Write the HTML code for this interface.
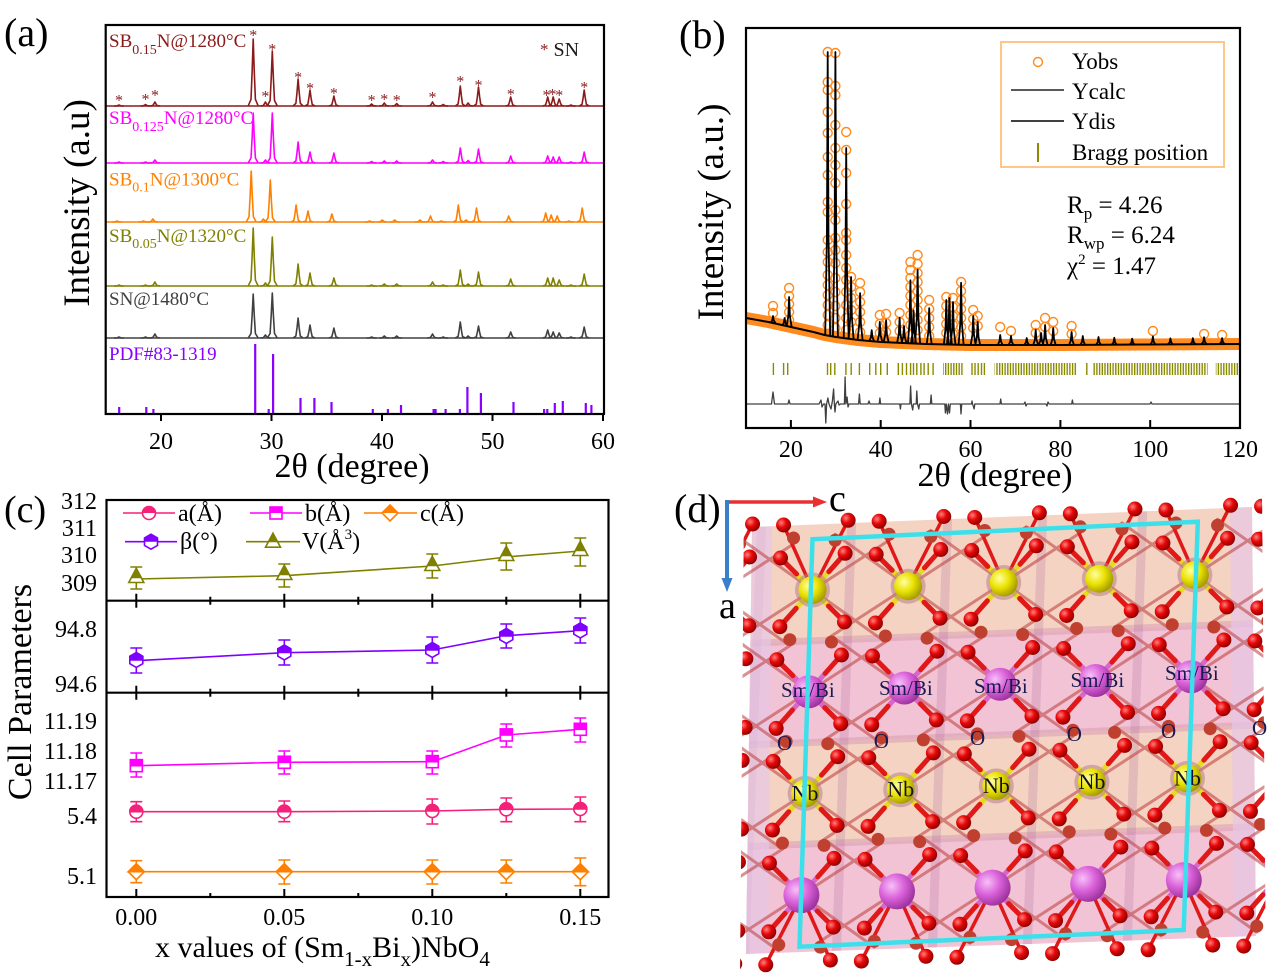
<!DOCTYPE html>
<html><head><meta charset="utf-8"><style>html,body{margin:0;padding:0;background:#fff}svg{display:block}</style></head>
<body>
<svg xmlns="http://www.w3.org/2000/svg" width="1269" height="978" viewBox="0 0 1269 978" font-family="'Liberation Serif','Times New Roman',serif">
<defs>
<path id="pk" d="M-5,0 L-2.2,-0.1 L-1.1,-0.5 L0,-1 L1.1,-0.5 L2.2,-0.1 L5,0" fill="none" vector-effect="non-scaling-stroke" stroke-linejoin="round"/>
<path id="pk2" d="M-2.5,0 L-0.8,-0.35 L0,-1 L0.8,-0.35 L2.5,0" fill="none" vector-effect="non-scaling-stroke" stroke-linejoin="round"/>
<pattern id="brg" x="0" y="363" width="2.7" height="12" patternUnits="userSpaceOnUse"><rect x="0" y="0" width="1.4" height="12" fill="#8B8B00"/></pattern>
<radialGradient id="gO" cx="0.35" cy="0.35" r="0.7"><stop offset="0" stop-color="#FF8080"/><stop offset="0.45" stop-color="#E80808"/><stop offset="1" stop-color="#8A0000"/></radialGradient>
<radialGradient id="gNb" cx="0.35" cy="0.35" r="0.7"><stop offset="0" stop-color="#FFFFA0"/><stop offset="0.5" stop-color="#EAE200"/><stop offset="1" stop-color="#A09800"/></radialGradient>
<radialGradient id="gSm" cx="0.35" cy="0.35" r="0.7"><stop offset="0" stop-color="#F8C0F8"/><stop offset="0.5" stop-color="#DA62DA"/><stop offset="1" stop-color="#9A309A"/></radialGradient>
<g id="mC"><circle r="6.5" fill="#fff" stroke="currentColor" stroke-width="1.6"/><path d="M-6.5,0 A6.5,6.5 0 0 1 6.5,0 Z" fill="currentColor"/></g>
<g id="mS"><rect x="-6" y="-6" width="12" height="12" fill="#fff" stroke="currentColor" stroke-width="1.6"/><rect x="-6" y="-6" width="12" height="6" fill="currentColor"/></g>
<g id="mD"><path d="M0,-8 L8,0 L0,8 L-8,0 Z" fill="#fff" stroke="currentColor" stroke-width="1.6"/><path d="M0,-8 L8,0 L-8,0 Z" fill="currentColor"/></g>
<g id="mH"><path d="M0,-7.5 L6.5,-3.7 L6.5,3.7 L0,7.5 L-6.5,3.7 L-6.5,-3.7 Z" fill="#fff" stroke="currentColor" stroke-width="1.6"/><path d="M-6.5,0 L-6.5,-3.7 L0,-7.5 L6.5,-3.7 L6.5,0 Z" fill="currentColor"/></g>
<g id="mT"><path d="M0,-8.5 L7.5,5.5 L-7.5,5.5 Z" fill="#fff" stroke="currentColor" stroke-width="1.6"/><path d="M0,-8.5 L4.8,0.5 L-4.8,0.5 Z" fill="currentColor"/></g>
<g id="Oset">
<circle cx="-27" cy="3" r="6.5" fill="#C04030" stroke="none"/><circle cx="27" cy="-3" r="6.5" fill="#C04030" stroke="none"/>
<circle cx="-14" cy="-17" r="7.5" fill="url(#gO)" stroke="none"/><circle cx="17" cy="-16" r="7.5" fill="url(#gO)" stroke="none"/>
<circle cx="-17" cy="16" r="7.5" fill="url(#gO)" stroke="none"/><circle cx="14" cy="17" r="7.5" fill="url(#gO)" stroke="none"/>
</g>
<g id="sqA" stroke-linecap="round" fill="none">
<path d="M-46,-49 L27,3 M-49.6,52.7 L27,3 M49.6,-52.7 L-27,-3 M46,49 L-27,-3" stroke="#C04848" stroke-width="3" opacity="0.6"/>
<path d="M-46,-49 L-30,-33 M49.6,-52.7 L33.3,-34.4" stroke="#E6DC1E" stroke-width="5"/>
<path d="M-49.6,52.7 L-33.3,34.4 M46,49 L30,33" stroke="#D868C8" stroke-width="5"/>
<path d="M-30,-33 L-14,-17 M33.3,-34.4 L17,-16 M-33.3,34.4 L-17,16 M30,33 L14,17" stroke="#E01818" stroke-width="5"/>
<use href="#Oset"/>
</g>
<g id="sqB" stroke-linecap="round" fill="none">
<path d="M-46,-49 L27,3 M-49.6,52.7 L27,3 M49.6,-52.7 L-27,-3 M46,49 L-27,-3" stroke="#C04848" stroke-width="3" opacity="0.6"/>
<path d="M-46,-49 L-30,-33 M49.6,-52.7 L33.3,-34.4" stroke="#D868C8" stroke-width="5"/>
<path d="M-49.6,52.7 L-33.3,34.4 M46,49 L30,33" stroke="#E6DC1E" stroke-width="5"/>
<path d="M-30,-33 L-14,-17 M33.3,-34.4 L17,-16 M-33.3,34.4 L-17,16 M30,33 L14,17" stroke="#E01818" stroke-width="5"/>
<use href="#Oset"/>
</g>
<!-- top edge: only bonds to bottom (Nb) corners -->
<g id="sqD" stroke-linecap="round" fill="none">
<path d="M-49.6,52.7 L27,3 M46,49 L-27,-3" stroke="#C04848" stroke-width="3" opacity="0.6"/>
<path d="M-49.6,52.7 L-14,-17 M46,49 L17,-16" stroke="#E01818" stroke-width="3.5"/>
<path d="M-49.6,52.7 L-33.3,34.4 M46,49 L30,33" stroke="#E6DC1E" stroke-width="5"/>
<path d="M-33.3,34.4 L-17,16 M30,33 L14,17" stroke="#E01818" stroke-width="5"/>
<use href="#Oset"/>
</g>
<!-- bottom edge: only bonds to top (Sm) corners -->
<g id="sqC" stroke-linecap="round" fill="none">
<path d="M-46,-49 L27,3 M49.6,-52.7 L-27,-3" stroke="#C04848" stroke-width="3" opacity="0.6"/>
<path d="M-46,-49 L-17,16 M49.6,-52.7 L14,17" stroke="#E01818" stroke-width="3.5"/>
<path d="M-46,-49 L-30,-33 M49.6,-52.7 L33.3,-34.4" stroke="#D868C8" stroke-width="5"/>
<path d="M-30,-33 L-14,-17 M33.3,-34.4 L17,-16" stroke="#E01818" stroke-width="5"/>
<use href="#Oset"/>
</g>
<clipPath id="clipD"><polygon points="744,506 1262,496 1266,975 740,978"/></clipPath>
<clipPath id="clipBg"><polygon points="752,527 1252,507 1256,936 746,954"/></clipPath>
</defs>

<!-- ===================== PANEL (a) ===================== -->
<text x="4" y="46" font-size="40">(a)</text>
<text transform="translate(89,203) rotate(-90)" text-anchor="middle" font-size="37">Intensity (a.u)</text>
<text x="352" y="477" text-anchor="middle" font-size="34">2θ (degree)</text>
<g font-size="24" text-anchor="middle">
<text x="161" y="449">20</text><text x="271.5" y="449">30</text><text x="382" y="449">40</text><text x="492.5" y="449">50</text><text x="603" y="449">60</text>
</g>

<g stroke="#8B1A1A" stroke-width="1.6" fill="none">
<path d="M106,106 H604"/>
<g transform="translate(0,106)">
<use href="#pk" transform="translate(119,0) scale(1,1)"/><use href="#pk" transform="translate(145.5,0) scale(1,1.5)"/><use href="#pk" transform="translate(154.9,0) scale(1,4)"/><use href="#pk" transform="translate(253.2,0) scale(1,67)"/><use href="#pk" transform="translate(265.4,0) scale(1,4)"/><use href="#pk" transform="translate(272.3,0) scale(1,55)"/><use href="#pk" transform="translate(298.1,0) scale(1,27)"/><use href="#pk" transform="translate(310,0) scale(1,16)"/><use href="#pk" transform="translate(333.9,0) scale(1,10)"/><use href="#pk" transform="translate(371.6,0) scale(1,2)"/><use href="#pk" transform="translate(384.3,0) scale(1,3)"/><use href="#pk" transform="translate(396.7,0) scale(1,2.5)"/><use href="#pk" transform="translate(432.5,0) scale(1,4)"/><use href="#pk" transform="translate(443.2,0) scale(1,1.5)"/><use href="#pk" transform="translate(460.3,0) scale(1,20)"/><use href="#pk" transform="translate(468.1,0) scale(1,3)"/><use href="#pk" transform="translate(478.5,0) scale(1,19)"/><use href="#pk" transform="translate(510.7,0) scale(1,9)"/><use href="#pk" transform="translate(547.7,0) scale(1,9)"/><use href="#pk" transform="translate(553.2,0) scale(1,9)"/><use href="#pk" transform="translate(559.2,0) scale(1,7)"/><use href="#pk" transform="translate(570.9,0) scale(1,1)"/><use href="#pk" transform="translate(584.2,0) scale(1,16)"/>
</g></g>
<g fill="#8B1A1A" font-size="16" text-anchor="middle">
<text x="119" y="105.5">*</text><text x="145.5" y="104.5">*</text><text x="155" y="100.5">*</text><text x="253.2" y="40.5">*</text><text x="265.4" y="101.5">*</text><text x="272.3" y="54.5">*</text><text x="298.1" y="82.5">*</text><text x="310" y="93.5">*</text><text x="333.9" y="98.5">*</text><text x="371.6" y="105.5">*</text><text x="384.3" y="104.5">*</text><text x="396.7" y="105.5">*</text><text x="432.5" y="102.5">*</text><text x="460.3" y="86.5">*</text><text x="478.5" y="90.5">*</text><text x="510.7" y="99.5">*</text><text x="546.5" y="100.5">*</text><text x="552.5" y="99.5">*</text><text x="559.2" y="100.5">*</text><text x="584.2" y="92.5">*</text>
</g>
<text x="109" y="47" font-size="19" fill="#8B1A1A">SB<tspan font-size="14" dy="7">0.15</tspan><tspan dy="-7">N@1280°C</tspan></text>
<text x="540" y="56" font-size="20"><tspan fill="#8B1A1A" font-size="17" dy="-1">*</tspan><tspan fill="#1a1a1a" dy="1"> SN</tspan></text>

<g stroke="#FF00FF" stroke-width="1.6" fill="none">
<path d="M106,163 H604"/>
<g transform="translate(0,163)">
<use href="#pk" transform="translate(119,0) scale(1,1)"/><use href="#pk" transform="translate(145.5,0) scale(1,1)"/><use href="#pk" transform="translate(154.9,0) scale(1,3)"/><use href="#pk" transform="translate(253.2,0) scale(1,50)"/><use href="#pk" transform="translate(265.4,0) scale(1,3)"/><use href="#pk" transform="translate(272.3,0) scale(1,50)"/><use href="#pk" transform="translate(298.1,0) scale(1,21)"/><use href="#pk" transform="translate(310,0) scale(1,11)"/><use href="#pk" transform="translate(333.9,0) scale(1,10)"/><use href="#pk" transform="translate(371.6,0) scale(1,1.5)"/><use href="#pk" transform="translate(384.3,0) scale(1,2)"/><use href="#pk" transform="translate(396.7,0) scale(1,2)"/><use href="#pk" transform="translate(432.5,0) scale(1,3)"/><use href="#pk" transform="translate(443.2,0) scale(1,1.5)"/><use href="#pk" transform="translate(460.3,0) scale(1,15)"/><use href="#pk" transform="translate(468.1,0) scale(1,2.5)"/><use href="#pk" transform="translate(478.5,0) scale(1,14)"/><use href="#pk" transform="translate(510.7,0) scale(1,7)"/><use href="#pk" transform="translate(547.7,0) scale(1,7)"/><use href="#pk" transform="translate(553.2,0) scale(1,6)"/><use href="#pk" transform="translate(559.2,0) scale(1,6)"/><use href="#pk" transform="translate(570.9,0) scale(1,1)"/><use href="#pk" transform="translate(584.2,0) scale(1,11)"/>
</g></g>
<text x="109" y="124" font-size="19" fill="#FF00FF">SB<tspan font-size="14" dy="7">0.125</tspan><tspan dy="-7">N@1280°C</tspan></text>

<g stroke="#FF8000" stroke-width="1.6" fill="none">
<path d="M106,222 H604"/>
<g transform="translate(-2,222)">
<use href="#pk" transform="translate(119,0) scale(1,1)"/><use href="#pk" transform="translate(145.5,0) scale(1,1)"/><use href="#pk" transform="translate(154.9,0) scale(1,3)"/><use href="#pk" transform="translate(253.2,0) scale(1,51)"/><use href="#pk" transform="translate(265.4,0) scale(1,3)"/><use href="#pk" transform="translate(272.3,0) scale(1,42)"/><use href="#pk" transform="translate(298.1,0) scale(1,17)"/><use href="#pk" transform="translate(310,0) scale(1,11)"/><use href="#pk" transform="translate(333.9,0) scale(1,8)"/><use href="#pk" transform="translate(371.6,0) scale(1,1)"/><use href="#pk" transform="translate(384.3,0) scale(1,2)"/><use href="#pk" transform="translate(396.7,0) scale(1,2)"/><use href="#pk" transform="translate(422,0) scale(1,2)"/><use href="#pk" transform="translate(432.5,0) scale(1,6)"/><use href="#pk" transform="translate(443.2,0) scale(1,1)"/><use href="#pk" transform="translate(460.3,0) scale(1,17)"/><use href="#pk" transform="translate(468.1,0) scale(1,2)"/><use href="#pk" transform="translate(478.5,0) scale(1,14)"/><use href="#pk" transform="translate(510.7,0) scale(1,6)"/><use href="#pk" transform="translate(547.7,0) scale(1,9)"/><use href="#pk" transform="translate(553.2,0) scale(1,7)"/><use href="#pk" transform="translate(559.2,0) scale(1,6)"/><use href="#pk" transform="translate(570.9,0) scale(1,1)"/><use href="#pk" transform="translate(584.2,0) scale(1,14)"/>
</g></g>
<text x="109" y="185.5" font-size="19" fill="#FF8000">SB<tspan font-size="14" dy="6">0.1</tspan><tspan dy="-6">N@1300°C</tspan></text>

<g stroke="#808000" stroke-width="1.6" fill="none">
<path d="M106,286 H604"/>
<g transform="translate(0,286)">
<use href="#pk" transform="translate(119,0) scale(1,1)"/><use href="#pk" transform="translate(145.5,0) scale(1,1)"/><use href="#pk" transform="translate(154.9,0) scale(1,4)"/><use href="#pk" transform="translate(253.2,0) scale(1,58)"/><use href="#pk" transform="translate(265.4,0) scale(1,3)"/><use href="#pk" transform="translate(272.3,0) scale(1,49)"/><use href="#pk" transform="translate(298.1,0) scale(1,22)"/><use href="#pk" transform="translate(310,0) scale(1,13)"/><use href="#pk" transform="translate(333.9,0) scale(1,8)"/><use href="#pk" transform="translate(371.6,0) scale(1,1)"/><use href="#pk" transform="translate(384.3,0) scale(1,2)"/><use href="#pk" transform="translate(396.7,0) scale(1,2)"/><use href="#pk" transform="translate(432.5,0) scale(1,4)"/><use href="#pk" transform="translate(443.2,0) scale(1,1)"/><use href="#pk" transform="translate(460.3,0) scale(1,16)"/><use href="#pk" transform="translate(468.1,0) scale(1,2)"/><use href="#pk" transform="translate(478.5,0) scale(1,14)"/><use href="#pk" transform="translate(510.7,0) scale(1,7)"/><use href="#pk" transform="translate(547.7,0) scale(1,8)"/><use href="#pk" transform="translate(553.2,0) scale(1,8)"/><use href="#pk" transform="translate(559.2,0) scale(1,6)"/><use href="#pk" transform="translate(570.9,0) scale(1,1)"/><use href="#pk" transform="translate(584.2,0) scale(1,12)"/>
</g></g>
<text x="109" y="242" font-size="19" fill="#808000">SB<tspan font-size="14" dy="6">0.05</tspan><tspan dy="-6">N@1320°C</tspan></text>

<g stroke="#404040" stroke-width="1.6" fill="none">
<path d="M106,338 H604"/>
<g transform="translate(0,338)">
<use href="#pk" transform="translate(119,0) scale(1,1)"/><use href="#pk" transform="translate(145.5,0) scale(1,1)"/><use href="#pk" transform="translate(154.9,0) scale(1,4)"/><use href="#pk" transform="translate(253.2,0) scale(1,44)"/><use href="#pk" transform="translate(265.4,0) scale(1,3)"/><use href="#pk" transform="translate(272.3,0) scale(1,45)"/><use href="#pk" transform="translate(298.1,0) scale(1,20)"/><use href="#pk" transform="translate(310,0) scale(1,13)"/><use href="#pk" transform="translate(333.9,0) scale(1,10)"/><use href="#pk" transform="translate(371.6,0) scale(1,1)"/><use href="#pk" transform="translate(384.3,0) scale(1,2)"/><use href="#pk" transform="translate(396.7,0) scale(1,2)"/><use href="#pk" transform="translate(432.5,0) scale(1,4)"/><use href="#pk" transform="translate(443.2,0) scale(1,1)"/><use href="#pk" transform="translate(460.3,0) scale(1,16)"/><use href="#pk" transform="translate(468.1,0) scale(1,2)"/><use href="#pk" transform="translate(478.5,0) scale(1,12)"/><use href="#pk" transform="translate(510.7,0) scale(1,6)"/><use href="#pk" transform="translate(547.7,0) scale(1,8)"/><use href="#pk" transform="translate(553.2,0) scale(1,6)"/><use href="#pk" transform="translate(559.2,0) scale(1,5)"/><use href="#pk" transform="translate(570.9,0) scale(1,1)"/><use href="#pk" transform="translate(584.2,0) scale(1,11)"/>
</g></g>
<text x="109" y="305" font-size="19" fill="#404040">SN@1480°C</text>

<path stroke="#8A00FF" stroke-width="2.2" fill="none" d="M119.2,414V407 M146.3,414V407 M153.4,414V409 M255.2,414V344 M268.7,414V409 M273.1,414V354 M300.5,414V398 M314.4,414V398 M331.5,414V402 M372.8,414V409 M387.9,414V409 M401,414V405 M433.6,414V409 M435.6,414V409 M445.6,414V409 M459.9,414V409 M467.4,414V387 M480.9,414V393 M513.5,414V402 M544.1,414V409 M547.3,414V409 M554.8,414V403 M562.8,414V401 M585.8,414V403 M591.4,414V405"/>
<text x="109" y="360" font-size="19" fill="#8A00FF">PDF#83-1319</text>

<rect x="105.7" y="25" width="498.3" height="389" fill="none" stroke="#000" stroke-width="2.2"/>
<path stroke="#000" stroke-width="2" d="M161,414v7 M271.5,414v7 M382,414v7 M492.5,414v7 M603,414v7"/>

<!-- ===================== PANEL (b) ===================== -->
<text x="679" y="48" font-size="40">(b)</text>
<text transform="translate(723,212) rotate(-90)" text-anchor="middle" font-size="37">Intensity (a.u.)</text>
<text x="995" y="486" text-anchor="middle" font-size="34">2θ (degree)</text>
<g font-size="24" text-anchor="middle">
<text x="790.9" y="457">20</text><text x="880.7" y="457">40</text><text x="970.5" y="457">60</text><text x="1060.4" y="457">80</text><text x="1150.2" y="457">100</text><text x="1240" y="457">120</text>
</g>

<path d="M746,318 L768.5,322 L790.9,327 L813.4,332 L824.6,335 L835.8,337 L858.3,340 L880.7,342 L925.6,344 L970.5,345 L1060.4,345 L1150.2,344.5 L1240,344" fill="none" stroke="#FF8A1E" stroke-width="12" stroke-linejoin="round"/>
<g fill="none" stroke="#FF8A1E" stroke-width="1.4">
<g transform="translate(827.7,0)"><circle cy="52" r="4.5"/><circle cy="82" r="4.5"/><circle cy="90" r="4.5"/><circle cy="112" r="4.5"/><circle cy="133" r="4.5"/><circle cy="157" r="4.5"/><circle cy="175" r="4.5"/><circle cy="202" r="4.5"/><circle cy="212" r="4.5"/><circle cy="240" r="4.5"/><circle cy="252" r="4.5"/><circle cy="262" r="4.5"/><circle cy="275" r="4.5"/><circle cy="285" r="4.5"/><circle cy="295" r="4.5"/><circle cy="305" r="4.5"/><circle cy="315" r="4.5"/><circle cy="325" r="4.5"/></g>
<g transform="translate(835.4,0)"><circle cy="53" r="4.5"/><circle cy="86" r="4.5"/><circle cy="95" r="4.5"/><circle cy="125" r="4.5"/><circle cy="148" r="4.5"/><circle cy="165" r="4.5"/><circle cy="183" r="4.5"/><circle cy="210" r="4.5"/><circle cy="220" r="4.5"/><circle cy="238" r="4.5"/><circle cy="250" r="4.5"/><circle cy="263" r="4.5"/><circle cy="278" r="4.5"/><circle cy="292" r="4.5"/><circle cy="306" r="4.5"/><circle cy="318" r="4.5"/><circle cy="328" r="4.5"/></g>
<g transform="translate(846.2,0)"><circle cy="132" r="4.5"/><circle cy="150" r="4.5"/><circle cy="173" r="4.5"/><circle cy="204" r="4.5"/><circle cy="233" r="4.5"/><circle cy="240" r="4.5"/><circle cy="255" r="4.5"/><circle cy="268" r="4.5"/><circle cy="280" r="4.5"/><circle cy="292" r="4.5"/><circle cy="305" r="4.5"/><circle cy="318" r="4.5"/><circle cy="330" r="4.5"/></g>
<g transform="translate(851.1,0)"><circle cy="277" r="4.5"/><circle cy="287" r="4.5"/><circle cy="298" r="4.5"/><circle cy="310" r="4.5"/><circle cy="322" r="4.5"/></g>
<g transform="translate(860.1,0)"><circle cy="283" r="4.5"/><circle cy="292" r="4.5"/><circle cy="302" r="4.5"/><circle cy="312" r="4.5"/><circle cy="322" r="4.5"/><circle cy="332" r="4.5"/></g>
<g transform="translate(789.1,0)"><circle cy="288" r="4.5"/><circle cy="296" r="4.5"/><circle cy="304" r="4.5"/><circle cy="312" r="4.5"/><circle cy="320" r="4.5"/></g>
<g transform="translate(773,0)"><circle cy="306" r="4.5"/><circle cy="313" r="4.5"/></g>
<g transform="translate(910.4,0)"><circle cy="262" r="4.5"/><circle cy="270" r="4.5"/><circle cy="278" r="4.5"/><circle cy="287" r="4.5"/><circle cy="296" r="4.5"/><circle cy="305" r="4.5"/><circle cy="315" r="4.5"/><circle cy="325" r="4.5"/><circle cy="335" r="4.5"/></g>
<g transform="translate(917.6,0)"><circle cy="255" r="4.5"/><circle cy="264" r="4.5"/><circle cy="273" r="4.5"/><circle cy="282" r="4.5"/><circle cy="291" r="4.5"/><circle cy="300" r="4.5"/><circle cy="310" r="4.5"/><circle cy="320" r="4.5"/><circle cy="330" r="4.5"/></g>
<g transform="translate(929.2,0)"><circle cy="300" r="4.5"/><circle cy="309" r="4.5"/><circle cy="318" r="4.5"/><circle cy="327" r="4.5"/><circle cy="336" r="4.5"/></g>
<g transform="translate(946.3,0)"><circle cy="297" r="4.5"/><circle cy="306" r="4.5"/><circle cy="315" r="4.5"/><circle cy="324" r="4.5"/><circle cy="333" r="4.5"/></g>
<g transform="translate(953,0)"><circle cy="298" r="4.5"/><circle cy="307" r="4.5"/><circle cy="316" r="4.5"/><circle cy="325" r="4.5"/><circle cy="334" r="4.5"/></g>
<g transform="translate(961.1,0)"><circle cy="282" r="4.5"/><circle cy="291" r="4.5"/><circle cy="300" r="4.5"/><circle cy="309" r="4.5"/><circle cy="318" r="4.5"/><circle cy="327" r="4.5"/><circle cy="336" r="4.5"/></g>
<g transform="translate(879.8,0)"><circle cy="315" r="4.5"/><circle cy="324" r="4.5"/><circle cy="333" r="4.5"/></g>
<g transform="translate(886.1,0)"><circle cy="314" r="4.5"/><circle cy="323" r="4.5"/><circle cy="332" r="4.5"/></g>
<g transform="translate(899.6,0)"><circle cy="313" r="4.5"/><circle cy="322" r="4.5"/><circle cy="331" r="4.5"/></g>
<g transform="translate(973.2,0)"><circle cy="310" r="4.5"/><circle cy="319" r="4.5"/><circle cy="328" r="4.5"/></g>
<g transform="translate(977.7,0)"><circle cy="316" r="4.5"/><circle cy="326" r="4.5"/></g>
<circle cx="1000.2" cy="327" r="4.5"/><circle cx="1011" cy="331" r="4.5"/><circle cx="1035.7" cy="325" r="4.5"/><circle cx="1035.7" cy="333" r="4.5"/><circle cx="1045.1" cy="318" r="4.5"/><circle cx="1045.1" cy="327" r="4.5"/><circle cx="1053.2" cy="322" r="4.5"/><circle cx="1053.2" cy="331" r="4.5"/><circle cx="1071.6" cy="326" r="4.5"/><circle cx="1071.6" cy="334" r="4.5"/><circle cx="1152.9" cy="331" r="4.5"/><circle cx="1204.1" cy="334" r="4.5"/><circle cx="1222.1" cy="335" r="4.5"/>
</g>

<path d="M746,318 L768.5,322 L790.9,327 L813.4,332 L824.6,335 L835.8,337 L858.3,340 L880.7,342 L925.6,344 L970.5,345 L1060.4,345 L1150.2,344.5 L1240,344" fill="none" stroke="#000" stroke-width="2" stroke-linejoin="round"/>
<g stroke="#000" stroke-width="1.8" fill="none">
<use href="#pk2" transform="translate(773,323) scale(1,7)"/><use href="#pk2" transform="translate(784.6,325.6) scale(1,7.6)"/><use href="#pk2" transform="translate(789.1,326.6) scale(1,29.6)"/><use href="#pk2" transform="translate(827.7,335.6) scale(1,283.6)"/><use href="#pk2" transform="translate(835.4,336.9) scale(1,284.9)"/><use href="#pk2" transform="translate(846.2,338.4) scale(1,190.4)"/><use href="#pk2" transform="translate(851.1,339) scale(1,62)"/><use href="#pk2" transform="translate(860.1,340.1) scale(1,47)"/><use href="#pk2" transform="translate(871.7,341.2) scale(1,11)"/><use href="#pk2" transform="translate(879.8,341.9) scale(1,20)"/><use href="#pk2" transform="translate(886.1,342.2) scale(1,22)"/><use href="#pk2" transform="translate(899.6,342.8) scale(1,25)"/><use href="#pk2" transform="translate(904,343) scale(1,17)"/><use href="#pk2" transform="translate(910.4,343.3) scale(1,63)"/><use href="#pk2" transform="translate(913.5,343.4) scale(1,33)"/><use href="#pk2" transform="translate(917.6,343.6) scale(1,74)"/><use href="#pk2" transform="translate(929.2,344.1) scale(1,36)"/><use href="#pk2" transform="translate(946.3,344.5) scale(1,44.5)"/><use href="#pk2" transform="translate(949.4,344.6) scale(1,46.6)"/><use href="#pk2" transform="translate(953,344.6) scale(1,42.6)"/><use href="#pk2" transform="translate(961.1,344.8) scale(1,62)"/><use href="#pk2" transform="translate(973.2,345) scale(1,29)"/><use href="#pk2" transform="translate(977.7,345) scale(1,23)"/><use href="#pk2" transform="translate(1000.2,345) scale(1,10)"/><use href="#pk2" transform="translate(1011,345) scale(1,9)"/><use href="#pk2" transform="translate(1026.7,345) scale(1,7)"/><use href="#pk2" transform="translate(1035.7,345) scale(1,15)"/><use href="#pk2" transform="translate(1041.1,345) scale(1,12)"/><use href="#pk2" transform="translate(1045.1,345) scale(1,20)"/><use href="#pk2" transform="translate(1053.2,345) scale(1,17)"/><use href="#pk2" transform="translate(1071.6,345) scale(1,13)"/><use href="#pk2" transform="translate(1082.8,345) scale(1,9)"/><use href="#pk2" transform="translate(1098.5,345) scale(1,8)"/><use href="#pk2" transform="translate(1114.3,344.8) scale(1,7)"/><use href="#pk2" transform="translate(1132.2,344.7) scale(1,6)"/><use href="#pk2" transform="translate(1152.9,344.5) scale(1,8)"/><use href="#pk2" transform="translate(1170.4,344.4) scale(1,6)"/><use href="#pk2" transform="translate(1192.9,344.2) scale(1,6)"/><use href="#pk2" transform="translate(1204.1,344.2) scale(1,7)"/><use href="#pk2" transform="translate(1222.1,344.1) scale(1,6)"/>
</g>

<path stroke="#8B8B00" stroke-width="1.4" fill="none" d="M773.4,363v12 M783.6,363v12 M787.7,363v12 M827.5,363v12 M830.7,363v12 M834.8,363v12 M845.9,363v12 M851.2,363v12 M859.4,363v12 M869.7,363v12 M875.8,363v12 M880.7,363v12 M887.3,363v12 M898.3,363v12 M902.4,363v12 M906.5,363v12 M910.6,363v12 M913.5,363v12 M916.8,363v12 M920.9,363v12 M924.1,363v12 M928.2,363v12 M933.1,363v12 M972,363v12 M975,363v12 M978.2,363v12 M981.5,363v12 M984.4,363v12 M1086.8,363v12"/>
<rect x="943" y="363" width="21" height="12" fill="url(#brg)"/>
<rect x="994.6" y="363" width="82" height="12" fill="url(#brg)"/>
<rect x="1093" y="363" width="114.6" height="12" fill="url(#brg)"/>
<rect x="1215.8" y="363" width="24" height="12" fill="url(#brg)"/>

<path fill="none" stroke="#404040" stroke-width="1.3" stroke-linejoin="round" d="M746,404 H771.5 L773,392 L774.5,404 H788 L789,400 L790,404 H819 L821,400 L822,407 L823.5,404 H825 L825.8,423 L826.6,404 L827.9,398 L829,404 L831,409 L832.4,401 L833.6,389 L834.4,405 L835,412 L835.8,404 L838,401 L839,405 L840.5,404 L844.4,404 L845.1,377 L845.9,404 L847.1,397 L848,407 L849,404 L858.6,404 L859.4,394 L860.2,404 L868,404 L869,401 L870,404 L879.2,404 L879.9,398 L880.6,404 L899.8,404 L900.4,409 L901,404 L909.9,404 L910.6,386 L911.4,404 L912.7,410 L913.4,404 L916.2,404 L916.8,391 L917.5,404 L918.8,409 L919.5,404 L930.4,404 L931.1,395 L931.8,404 L944.8,404 L945.4,413 L946.2,404 L947.5,414 L948.4,404 L949.5,413 L950.3,404 L960.4,404 L961,414 L961.7,404 L971.5,404 L972,401 L972.6,404 L974.1,409 L974.8,404 L1000,404 L1000.7,399 L1001.4,404 L1024,404 L1025,402 L1026,406 L1027,404 L1046,404 L1047,406 L1048,402 L1049,404 L1071.7,404 L1072.4,400 L1073.1,404 L1150,404 L1151,402 L1152,404 L1240,404"/>

<rect x="1001" y="42" width="223" height="125" fill="#fff" stroke="#FFC080" stroke-width="1.8"/>
<circle cx="1038" cy="62" r="4.5" fill="none" stroke="#FF8A1E" stroke-width="1.4"/>
<path d="M1011,90 H1064" stroke="#222" stroke-width="1.6"/>
<path d="M1011,121 H1064" stroke="#000" stroke-width="1.6"/>
<path d="M1038,143 V162" stroke="#8B8B00" stroke-width="2"/>
<g font-size="23"><text x="1072" y="69">Yobs</text><text x="1072" y="99">Ycalc</text><text x="1072" y="129">Ydis</text><text x="1072" y="160">Bragg position</text></g>
<g font-size="25">
<text x="1067" y="213">R<tspan font-size="17" dy="6">p</tspan><tspan dy="-6"> = 4.26</tspan></text>
<text x="1067" y="243">R<tspan font-size="17" dy="6">wp</tspan><tspan dy="-6"> = 6.24</tspan></text>
<text x="1067" y="274">χ<tspan font-size="15" dy="-10">2</tspan><tspan dy="10">  = 1.47</tspan></text>
</g>
<rect x="746" y="28" width="494" height="400" fill="none" stroke="#000" stroke-width="2.2"/>
<path stroke="#000" stroke-width="2" d="M790.9,428v-8 M880.7,428v-8 M970.5,428v-8 M1060.4,428v-8 M1150.2,428v-8"/>

<!-- ===================== PANEL (c) ===================== -->
<text x="4" y="522" font-size="38">(c)</text>
<text transform="translate(31,692) rotate(-90)" text-anchor="middle" font-size="34">Cell Parameters</text>
<text x="155" y="957" font-size="30">x values of (Sm<tspan font-size="21" dy="9">1-x</tspan><tspan dy="-9">Bi</tspan><tspan font-size="21" dy="9">x</tspan><tspan dy="-9">)NbO</tspan><tspan font-size="21" dy="9">4</tspan></text>
<g font-size="24" text-anchor="end">
<text x="97" y="509">312</text><text x="97" y="536">311</text><text x="97" y="563">310</text><text x="97" y="591">309</text>
<text x="97" y="637">94.8</text><text x="97" y="692">94.6</text>
<text x="97" y="729">11.19</text><text x="97" y="759">11.18</text><text x="97" y="789">11.17</text>
<text x="97" y="824">5.4</text><text x="97" y="884">5.1</text>
</g>
<g font-size="24" text-anchor="middle">
<text x="136.3" y="925">0.00</text><text x="284.3" y="925">0.05</text><text x="432.3" y="925">0.10</text><text x="580.3" y="925">0.15</text>
</g>

<g color="#808000" stroke="#808000" fill="none" stroke-width="1.6">
<path d="M136.3,579 L284.3,575.7 L432.3,566 L506.3,557 L580.3,551"/>
<path d="M136.3,567V589 M130.3,567h12 M130.3,589h12 M284.3,564V587 M278.3,564h12 M278.3,587h12 M432.3,554V578 M426.3,554h12 M426.3,578h12 M506.3,543V570 M500.3,543h12 M500.3,570h12 M580.3,538V566 M574.3,538h12 M574.3,566h12"/>
<use href="#mT" transform="translate(136.3,577)"/><use href="#mT" transform="translate(284.3,574)"/><use href="#mT" transform="translate(432.3,565)"/><use href="#mT" transform="translate(506.3,555)"/><use href="#mT" transform="translate(580.3,550)"/>
</g>
<g color="#8000FF" stroke="#8000FF" fill="none" stroke-width="1.6">
<path d="M136.3,660.7 L284.3,652.7 L432.3,650 L506.3,635.7 L580.3,630.7"/>
<path d="M136.3,648V673 M130.3,648h12 M130.3,673h12 M284.3,640V665 M278.3,640h12 M278.3,665h12 M432.3,637V663 M426.3,637h12 M426.3,663h12 M506.3,624V648 M500.3,624h12 M500.3,648h12 M580.3,618V643 M574.3,618h12 M574.3,643h12"/>
<use href="#mH" transform="translate(136.3,660)"/><use href="#mH" transform="translate(284.3,652.5)"/><use href="#mH" transform="translate(432.3,650)"/><use href="#mH" transform="translate(506.3,636)"/><use href="#mH" transform="translate(580.3,630.5)"/>
</g>
<g color="#FF00FF" stroke="#FF00FF" fill="none" stroke-width="1.6">
<path d="M136.3,765.7 L284.3,762.3 L432.3,761.7 L506.3,735 L580.3,729.3"/>
<path d="M136.3,753V777 M130.3,753h12 M130.3,777h12 M284.3,751V774 M278.3,751h12 M278.3,774h12 M432.3,751V774 M426.3,751h12 M426.3,774h12 M506.3,724V747 M500.3,724h12 M500.3,747h12 M580.3,718V742 M574.3,718h12 M574.3,742h12"/>
<use href="#mS" transform="translate(136.3,765.7)"/><use href="#mS" transform="translate(284.3,762.3)"/><use href="#mS" transform="translate(432.3,761.7)"/><use href="#mS" transform="translate(506.3,735)"/><use href="#mS" transform="translate(580.3,729.3)"/>
</g>
<g color="#F5207A" stroke="#F5207A" fill="none" stroke-width="1.6">
<path d="M136.3,811.7 L284.3,811.7 L432.3,811 L506.3,809.3 L580.3,809"/>
<path d="M136.3,801.7V821.7 M130.3,801.7h12 M130.3,821.7h12 M284.3,801V821.7 M278.3,801h12 M278.3,821.7h12 M432.3,799V824 M426.3,799h12 M426.3,824h12 M506.3,798V821.7 M500.3,798h12 M500.3,821.7h12 M580.3,797V821.7 M574.3,797h12 M574.3,821.7h12"/>
<use href="#mC" transform="translate(136.3,811.7)"/><use href="#mC" transform="translate(284.3,811.7)"/><use href="#mC" transform="translate(432.3,811)"/><use href="#mC" transform="translate(506.3,809.3)"/><use href="#mC" transform="translate(580.3,809)"/>
</g>
<g color="#FF8000" stroke="#FF8000" fill="none" stroke-width="1.6">
<path d="M136.3,871.7 L580.3,871.7"/>
<path d="M136.3,860.7V882.7 M130.3,860.7h12 M130.3,882.7h12 M284.3,860V884 M278.3,860h12 M278.3,884h12 M432.3,860V884 M426.3,860h12 M426.3,884h12 M506.3,860V883 M500.3,860h12 M500.3,883h12 M580.3,858V885.7 M574.3,858h12 M574.3,885.7h12"/>
<use href="#mD" transform="translate(136.3,871.7)"/><use href="#mD" transform="translate(284.3,871.7)"/><use href="#mD" transform="translate(432.3,871.7)"/><use href="#mD" transform="translate(506.3,871.7)"/><use href="#mD" transform="translate(580.3,871.7)"/>
</g>

<g fill="none" stroke-width="1.6">
<path d="M123,513H175" stroke="#F5207A"/><use href="#mC" transform="translate(149,513)" color="#F5207A"/>
<path d="M250,513H302" stroke="#FF00FF"/><use href="#mS" transform="translate(276,513)" color="#FF00FF"/>
<path d="M364,513H417" stroke="#FF8000"/><use href="#mD" transform="translate(390,513)" color="#FF8000"/>
<path d="M125,541.7H177" stroke="#8000FF"/><use href="#mH" transform="translate(151,541.7)" color="#8000FF"/>
<path d="M246,541.7H300" stroke="#808000"/><use href="#mT" transform="translate(273,541.7)" color="#808000"/>
</g>
<g font-size="24">
<text x="178" y="521">a(Å)</text><text x="305" y="521">b(Å)</text><text x="420" y="521">c(Å)</text>
<text x="180" y="549">β(°)</text><text x="302" y="549">V(Å<tspan font-size="15" dy="-10">3</tspan><tspan dy="10">)</tspan></text>
</g>

<rect x="106.5" y="500" width="502" height="397" fill="none" stroke="#000" stroke-width="2.2"/>
<path d="M106.5,600.7H608.5 M106.5,692.7H608.5" stroke="#000" stroke-width="2.2"/>
<path stroke="#000" stroke-width="2" d="M136.3,593.7v14 M284.3,593.7v14 M432.3,593.7v14 M580.3,593.7v14 M210.3,596.7v8 M358.3,596.7v8 M506.3,596.7v8 M136.3,685.7v14 M284.3,685.7v14 M432.3,685.7v14 M580.3,685.7v14 M210.3,688.7v8 M358.3,688.7v8 M506.3,688.7v8 M136.3,897v-8 M284.3,897v-8 M432.3,897v-8 M580.3,897v-8 M210.3,897v-4 M358.3,897v-4 M506.3,897v-4"/>

<!-- ===================== PANEL (d) ===================== -->
<g clip-path="url(#clipD)">
<g clip-path="url(#clipBg)">
<polygon points="740,480 1265,480 1265,623.1 740,643.6" fill="#F4D3C2"/>
<polygon points="740,643.6 1265,623.1 1265,724.7 740,745.2" fill="#F2C3D4"/>
<polygon points="740,745.2 1265,724.7 1265,826.2 740,846.7" fill="#F4D3C2"/>
<polygon points="740,846.7 1265,826.2 1265,990 740,990" fill="#F2C3D4"/>
<path d="M740,643.6 L1265,623.1 M740,745.2 L1265,724.7 M740,846.7 L1265,826.2" stroke="#D89AB0" stroke-width="7" opacity="0.5"/>
<path d="M762,515 L744,968 M852,512 L836,965 M948,508 L932,961 M1043,505 L1027,957 M1143,501 L1127,953" stroke="#A05A96" stroke-width="9" opacity="0.2"/>
<polygon points="746,520 772,519 768,968 746,968" fill="#E6C6E6" opacity="0.7"/>
<polygon points="1230,505 1256,505 1258,950 1234,951" fill="#E6C6E6" opacity="0.7"/>
</g>
<use href="#sqD" transform="translate(766.55,541)"/><use href="#sqD" transform="translate(862.15,537.3)"/><use href="#sqD" transform="translate(957.75,533.5)"/><use href="#sqD" transform="translate(1053.35,529.8)"/><use href="#sqD" transform="translate(1148.95,526)"/><use href="#sqD" transform="translate(1244.55,522.3)"/>
<use href="#sqA" transform="translate(762.85,642.7)"/><use href="#sqA" transform="translate(858.45,639)"/><use href="#sqA" transform="translate(954.05,635.2)"/><use href="#sqA" transform="translate(1049.65,631.5)"/><use href="#sqA" transform="translate(1145.25,627.7)"/><use href="#sqA" transform="translate(1240.85,624)"/>
<use href="#sqB" transform="translate(759.15,744.4)"/><use href="#sqB" transform="translate(854.75,740.7)"/><use href="#sqB" transform="translate(950.35,736.9)"/><use href="#sqB" transform="translate(1045.95,733.2)"/><use href="#sqB" transform="translate(1141.55,729.4)"/><use href="#sqB" transform="translate(1237.15,725.7)"/>
<use href="#sqA" transform="translate(755.45,846.1)"/><use href="#sqA" transform="translate(851.05,842.4)"/><use href="#sqA" transform="translate(946.65,838.6)"/><use href="#sqA" transform="translate(1042.25,834.9)"/><use href="#sqA" transform="translate(1137.85,831.1)"/><use href="#sqA" transform="translate(1233.45,827.4)"/>
<use href="#sqC" transform="translate(751.75,947.8)"/><use href="#sqC" transform="translate(847.35,944.1)"/><use href="#sqC" transform="translate(942.95,940.3)"/><use href="#sqC" transform="translate(1038.55,936.6)"/><use href="#sqC" transform="translate(1134.15,932.8)"/><use href="#sqC" transform="translate(1229.75,929.1)"/>
</g>
<g>
<g fill="#B88088" opacity="0.55"><circle cx="812.5" cy="590" r="17.5"/><circle cx="908.1" cy="586.25" r="17.5"/><circle cx="1003.7" cy="582.5" r="17.5"/><circle cx="1099.3" cy="578.75" r="17.5"/><circle cx="1194.9" cy="575" r="17.5"/><circle cx="805.1" cy="793.4" r="17.5"/><circle cx="900.7" cy="789.7" r="17.5"/><circle cx="996.3" cy="785.9" r="17.5"/><circle cx="1091.9" cy="782.2" r="17.5"/><circle cx="1187.5" cy="778.4" r="17.5"/></g>
<g fill="url(#gNb)"><circle cx="812.5" cy="590" r="14"/><circle cx="908.1" cy="586.25" r="14"/><circle cx="1003.7" cy="582.5" r="14"/><circle cx="1099.3" cy="578.75" r="14"/><circle cx="1194.9" cy="575" r="14"/><circle cx="805.1" cy="793.4" r="14"/><circle cx="900.7" cy="789.7" r="14"/><circle cx="996.3" cy="785.9" r="14"/><circle cx="1091.9" cy="782.2" r="14"/><circle cx="1187.5" cy="778.4" r="14"/></g>
<g fill="url(#gSm)"><circle cx="808.8" cy="691.7" r="16.5"/><circle cx="904.4" cy="688" r="16.5"/><circle cx="1000" cy="684.2" r="16.5"/><circle cx="1095.6" cy="680.5" r="16.5"/><circle cx="1191.2" cy="676.7" r="16.5"/><circle cx="801.4" cy="895.1" r="18"/><circle cx="897" cy="891.4" r="18"/><circle cx="992.6" cy="887.6" r="18"/><circle cx="1088.2" cy="883.9" r="18"/><circle cx="1183.8" cy="880.1" r="18"/></g>
</g>
<g fill="#1a1a50" font-size="21">
<text x="781" y="697">Sm/Bi</text><text x="879" y="695">Sm/Bi</text><text x="974" y="693">Sm/Bi</text><text x="1070.5" y="687">Sm/Bi</text><text x="1165" y="680">Sm/Bi</text>
<text x="777" y="750">O</text><text x="873.7" y="748">O</text><text x="970" y="745">O</text><text x="1066.8" y="741">O</text><text x="1161" y="738">O</text><text x="1252" y="735">O</text>
</g>
<g fill="#101030" font-size="22" text-anchor="middle">
<text x="805" y="800.5">Nb</text><text x="900.7" y="796.5">Nb</text><text x="996.3" y="793">Nb</text><text x="1091.9" y="789">Nb</text><text x="1187.5" y="785.5">Nb</text>
</g>
<polygon points="812.5,539.3 1197.8,521.7 1183.7,930 799.5,946.7" fill="none" stroke="#3CE0EA" stroke-width="4.5"/>
<path d="M725,502 H814" stroke="#E83030" stroke-width="3.5"/>
<polygon points="813,496.5 827,502 813,507.5" fill="#E83030"/>
<path d="M727,500 V579" stroke="#3A80C8" stroke-width="4"/>
<polygon points="721.5,578 727,592 732.5,578" fill="#3A80C8"/>
<text x="829" y="511" font-size="38">c</text>
<text x="719" y="618" font-size="38">a</text>
<text x="674" y="522" font-size="40">(d)</text>
</svg>
</body></html>
